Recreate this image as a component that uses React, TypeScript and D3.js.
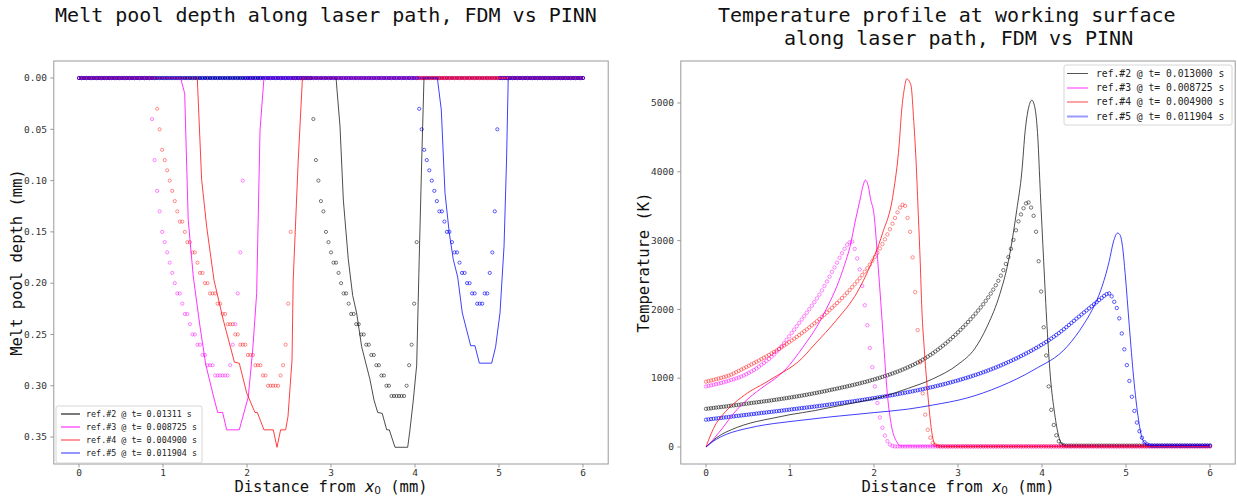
import React from "react";
import * as d3 from "d3";

// ---- data ----
const refNames = ["ref.#2", "ref.#3", "ref.#4", "ref.#5"];
const depthTimes = ["0.01311", "0.008725", "0.004900", "0.011904"];
const tempTimes = ["0.013000", "0.008725", "0.004900", "0.011904"];

// PINN samples sit on a regular grid along the path
const gridStep = 0.03;
const gridCount = 201;

// PINN melt pool depth (mm): first grid index inside the pool, then the depths; 0 outside
const pinnDepthStart = [93, 29, 31, 135];
const pinnDepth2 = [0.04, 0.08, 0.10, 0.12, 0.13, 0.15, 0.16, 0.17, 0.18, 0.18, 0.19, 0.20, 0.21, 0.21, 0.22, 0.23, 0.23, 0.24, 0.24, 0.25, 0.25, 0.26, 0.26, 0.27, 0.27, 0.28, 0.28, 0.29, 0.29, 0.30, 0.30, 0.31, 0.31, 0.31, 0.31, 0.31, 0.31, 0.30, 0.28, 0.26, 0.22, 0.16];
const pinnDepth3 = [0.04, 0.08, 0.11, 0.13, 0.15, 0.16, 0.17, 0.18, 0.19, 0.20, 0.21, 0.21, 0.22, 0.23, 0.23, 0.24, 0.25, 0.25, 0.26, 0.26, 0.27, 0.27, 0.28, 0.28, 0.28, 0.29, 0.29, 0.29, 0.29, 0.29, 0.29, 0.28, 0.26, 0.24, 0.21, 0.17, 0.10];
const pinnDepth4 = [0.03, 0.05, 0.07, 0.08, 0.09, 0.10, 0.11, 0.12, 0.13, 0.14, 0.14, 0.15, 0.16, 0.16, 0.17, 0.17, 0.18, 0.19, 0.19, 0.20, 0.20, 0.21, 0.21, 0.21, 0.22, 0.22, 0.23, 0.23, 0.24, 0.24, 0.24, 0.25, 0.25, 0.26, 0.26, 0.26, 0.27, 0.27, 0.27, 0.28, 0.28, 0.28, 0.29, 0.29, 0.30, 0.30, 0.30, 0.30, 0.30, 0.29, 0.28, 0.26, 0.22, 0.15];
const pinnDepth5 = [0.03, 0.05, 0.07, 0.08, 0.09, 0.10, 0.11, 0.12, 0.13, 0.13, 0.14, 0.15, 0.15, 0.16, 0.17, 0.17, 0.18, 0.19, 0.19, 0.20, 0.20, 0.21, 0.21, 0.22, 0.22, 0.22, 0.21, 0.21, 0.19, 0.17, 0.13, 0.05];

// FDM melt pool depth (x mm, depth mm)
const fdmDepth2 = [[0, 0], [3.06, 0], [3.107, 0.047], [3.147, 0.119], [3.206, 0.177], [3.258, 0.212], [3.305, 0.229], [3.365, 0.262], [3.464, 0.294], [3.512, 0.314], [3.556, 0.326], [3.61, 0.327], [3.663, 0.343], [3.694, 0.343], [3.762, 0.36], [3.913, 0.36], [3.94, 0.343], [3.98, 0.314], [4.02, 0.28], [4.05, 0.177], [4.08, 0.08], [4.107, 0], [6, 0]];
const fdmDepth3 = [[0, 0], [1.21, 0], [1.258, 0.015], [1.30, 0.138], [1.361, 0.194], [1.44, 0.242], [1.508, 0.279], [1.60, 0.31], [1.651, 0.326], [1.71, 0.326], [1.758, 0.343], [1.908, 0.343], [2.015, 0.311], [2.068, 0.265], [2.115, 0.21], [2.155, 0.051], [2.202, 0], [6, 0]];
const fdmDepth4 = [[0, 0], [1.408, 0], [1.46, 0.099], [1.52, 0.145], [1.607, 0.197], [1.718, 0.236], [1.85, 0.277], [1.908, 0.278], [1.996, 0.307], [2.095, 0.326], [2.123, 0.326], [2.202, 0.343], [2.313, 0.343], [2.357, 0.36], [2.40, 0.343], [2.46, 0.343], [2.488, 0.33], [2.536, 0.275], [2.55, 0.197], [2.61, 0.08], [2.66, 0], [6, 0]];
const fdmDepth5 = [[0, 0], [4.266, 0], [4.313, 0.031], [4.357, 0.112], [4.408, 0.151], [4.456, 0.177], [4.508, 0.194], [4.563, 0.229], [4.663, 0.261], [4.714, 0.261], [4.766, 0.278], [4.913, 0.278], [4.96, 0.262], [5.012, 0.229], [5.06, 0.164], [5.09, 0.08], [5.11, 0], [6, 0]];

// PINN surface temperature (K), one value per grid point
const pinnTemp2 = [
  555, 559, 563, 568, 572, 577, 581, 586, 590, 595,
  600, 605, 609, 614, 619, 624, 629, 634, 639, 644,
  648, 653, 658, 663, 668, 673, 678, 684, 689, 694,
  700, 705, 711, 717, 723, 729, 735, 741, 747, 754,
  760, 767, 774, 781, 788, 795, 803, 810, 818, 826,
  834, 841, 849, 857, 865, 873, 881, 890, 898, 907,
  916, 925, 934, 944, 954, 964, 974, 985, 996, 1007,
  1019, 1031, 1043, 1056, 1069, 1082, 1096, 1110, 1125, 1140,
  1156, 1173, 1190, 1208, 1227, 1247, 1268, 1290, 1313, 1337,
  1362, 1388, 1415, 1443, 1472, 1502, 1533, 1565, 1598, 1632,
  1667, 1703, 1740, 1778, 1817, 1857, 1898, 1940, 1983, 2028,
  2075, 2124, 2175, 2230, 2288, 2350, 2416, 2490, 2570, 2660,
  2760, 2880, 3010, 3150, 3280, 3380, 3470, 3540, 3555, 3480,
  3360, 3128, 2700, 2260, 1740, 1330, 880, 540, 320, 170,
  85, 40, 25, 20, 20, 20, 20, 20, 20, 20,
  20, 20, 20, 20, 20, 20, 20, 20, 20, 20,
  20, 20, 20, 20, 20, 20, 20, 20, 20, 20,
  20, 20, 20, 20, 20, 20, 20, 20, 20, 20,
  20, 20, 20, 20, 20, 20, 20, 20, 20, 20,
  20, 20, 20, 20, 20, 20, 20, 20, 20, 20,
  20,
];
const pinnTemp3 = [
  880, 888, 896, 905, 913, 922, 931, 941, 951, 962,
  973, 985, 997, 1010, 1024, 1040, 1058, 1077, 1097, 1119,
  1143, 1168, 1195, 1222, 1250, 1280, 1312, 1346, 1384, 1422,
  1465, 1510, 1558, 1608, 1658, 1706, 1755, 1804, 1853, 1902,
  1952, 2003, 2054, 2105, 2160, 2215, 2275, 2340, 2405, 2475,
  2545, 2610, 2680, 2750, 2815, 2880, 2940, 2975, 2985, 2880,
  2740, 2580, 2340, 2060, 1770, 1440, 1160, 880, 640, 430,
  280, 165, 85, 35, 14, 8, 8, 8, 8, 8,
  8, 8, 8, 8, 8, 8, 8, 8, 8, 8,
  8, 8, 8, 8, 8, 8, 8, 8, 8, 8,
  8, 8, 8, 8, 8, 8, 8, 8, 8, 8,
  8, 8, 8, 8, 8, 8, 8, 8, 8, 8,
  8, 8, 8, 8, 8, 8, 8, 8, 8, 8,
  8, 8, 8, 8, 8, 8, 8, 8, 8, 8,
  8, 8, 8, 8, 8, 8, 8, 8, 8, 8,
  8, 8, 8, 8, 8, 8, 8, 8, 8, 8,
  8, 8, 8, 8, 8, 8, 8, 8, 8, 8,
  8, 8, 8, 8, 8, 8, 8, 8, 8, 8,
  8, 8, 8, 8, 8, 8, 8, 8, 8, 8,
  8, 8, 8, 8, 8, 8, 8, 8, 8, 8,
  8,
];
const pinnTemp4 = [
  949, 958, 967, 976, 985, 995, 1005, 1015, 1026, 1038,
  1052, 1070, 1088, 1106, 1124, 1143, 1162, 1181, 1200, 1219,
  1238, 1258, 1278, 1298, 1318, 1338, 1360, 1382, 1404, 1427,
  1450, 1474, 1498, 1523, 1548, 1574, 1600, 1627, 1654, 1682,
  1710, 1739, 1768, 1798, 1828, 1859, 1890, 1922, 1955, 1988,
  2022, 2057, 2092, 2128, 2165, 2203, 2242, 2282, 2323, 2365,
  2408, 2453, 2500, 2548, 2598, 2650, 2705, 2762, 2822, 2885,
  2950, 3018, 3090, 3165, 3245, 3330, 3410, 3480, 3520, 3505,
  3330, 3128, 2756, 2250, 1700, 1230, 780, 470, 250, 135,
  60, 28, 14, 10, 10, 10, 10, 10, 10, 10,
  10, 10, 10, 10, 10, 10, 10, 10, 10, 10,
  10, 10, 10, 10, 10, 10, 10, 10, 10, 10,
  10, 10, 10, 10, 10, 10, 10, 10, 10, 10,
  10, 10, 10, 10, 10, 10, 10, 10, 10, 10,
  10, 10, 10, 10, 10, 10, 10, 10, 10, 10,
  10, 10, 10, 10, 10, 10, 10, 10, 10, 10,
  10, 10, 10, 10, 10, 10, 10, 10, 10, 10,
  10, 10, 10, 10, 10, 10, 10, 10, 10, 10,
  10, 10, 10, 10, 10, 10, 10, 10, 10, 10,
  10, 10, 10, 10, 10, 10, 10, 10, 10, 10,
  10,
];
const pinnTemp5 = [
  397, 401, 406, 410, 414, 419, 423, 428, 432, 436,
  441, 445, 450, 454, 458, 463, 467, 472, 476, 480,
  485, 489, 494, 498, 502, 507, 511, 516, 520, 524,
  529, 533, 538, 542, 547, 551, 556, 560, 565, 569,
  574, 578, 583, 588, 592, 597, 602, 607, 612, 617,
  622, 627, 632, 637, 642, 647, 652, 657, 662, 668,
  673, 678, 684, 689, 695, 700, 706, 712, 718, 724,
  730, 736, 742, 748, 754, 761, 768, 775, 782, 789,
  796, 803, 810, 818, 825, 833, 841, 849, 857, 865,
  873, 882, 891, 900, 909, 918, 928, 938, 948, 958,
  968, 979, 990, 1001, 1012, 1024, 1036, 1048, 1060, 1073,
  1086, 1099, 1113, 1127, 1141, 1156, 1171, 1186, 1202, 1218,
  1234, 1251, 1268, 1285, 1303, 1321, 1340, 1359, 1378, 1398,
  1418, 1439, 1460, 1482, 1504, 1527, 1551, 1576, 1602, 1628,
  1655, 1683, 1712, 1742, 1772, 1803, 1834, 1865, 1895, 1925,
  1955, 1985, 2015, 2045, 2075, 2105, 2136, 2166, 2196, 2222,
  2232, 2190, 2110, 2020, 1870, 1650, 1420, 1190, 960, 730,
  525, 355, 230, 135, 70, 38, 24, 20, 20, 20,
  20, 20, 20, 20, 20, 20, 20, 20, 20, 20,
  20, 20, 20, 20, 20, 20, 20, 20, 20, 20,
  20,
];

// FDM surface temperature (x mm, T K)
const fdmTemp2 = [[0, 0], [0.06, 70], [0.12, 130], [0.18, 180], [0.3, 250], [0.45, 320], [0.6, 370], [0.8, 420], [1.0, 470], [1.3, 530], [1.5, 580], [1.8, 650], [2.1, 730], [2.4, 850], [2.7, 990], [3.0, 1200], [3.2, 1430], [3.35, 1760], [3.5, 2230], [3.6, 2700], [3.7, 3450], [3.76, 4000], [3.8, 4600], [3.84, 4930], [3.88, 5040], [3.92, 4900], [3.95, 4500], [3.98, 3700], [4.02, 2700], [4.06, 1750], [4.1, 1020], [4.15, 490], [4.2, 150], [4.25, 30], [4.3, 15], [6, 15]];
const fdmTemp3 = [[0, 0], [0.06, 70], [0.12, 160], [0.2, 280], [0.33, 490], [0.5, 700], [0.7, 890], [0.85, 1020], [1.0, 1200], [1.1, 1360], [1.2, 1530], [1.32, 1750], [1.45, 2050], [1.556, 2330], [1.65, 2650], [1.714, 2910], [1.78, 3300], [1.833, 3590], [1.87, 3800], [1.897, 3880], [1.93, 3800], [1.96, 3600], [2.0, 3380], [2.05, 2620], [2.11, 1600], [2.158, 780], [2.21, 295], [2.27, 77], [2.32, 15], [6, 10]];
const fdmTemp4 = [[0, 0], [0.06, 190], [0.12, 340], [0.2, 470], [0.33, 630], [0.5, 790], [0.7, 930], [0.85, 1040], [1.0, 1150], [1.1, 1240], [1.3, 1500], [1.55, 1840], [1.8, 2250], [1.95, 2620], [2.1, 3100], [2.23, 3690], [2.3, 4400], [2.33, 4900], [2.36, 5200], [2.39, 5350], [2.44, 5260], [2.47, 4800], [2.5, 4170], [2.53, 3300], [2.55, 2700], [2.57, 2000], [2.6, 1400], [2.65, 640], [2.69, 200], [2.73, 30], [2.8, 10], [6, 10]];
const fdmTemp5 = [[0, 0], [0.06, 60], [0.12, 110], [0.18, 150], [0.3, 210], [0.45, 260], [0.6, 300], [0.8, 340], [1.0, 370], [1.5, 440], [2.0, 500], [2.4, 550], [2.7, 610], [3.1, 710], [3.5, 880], [3.9, 1120], [4.3, 1460], [4.5, 1790], [4.6, 2000], [4.7, 2280], [4.8, 2700], [4.85, 2980], [4.9, 3110], [4.93, 3080], [4.96, 2900], [4.99, 2520], [5.04, 1750], [5.09, 1020], [5.15, 390], [5.2, 100], [5.26, 30], [5.3, 20], [6, 20]];

const xTicks = [0, 1, 2, 3, 4, 5, 6];
const depthTicks = [0, 0.05, 0.1, 0.15, 0.2, 0.25, 0.3, 0.35];
const tempTicks = [0, 1000, 2000, 3000, 4000, 5000];

// ---- styles ----
const seriesColor = ["#000000", "#ff00ff", "#ff0000", "#0000ff"];
const lineOpacity = [0.7, 0.8, 0.75, 0.75];
const dotOpacity = [0.65, 0.6, 0.55, 0.8];
const legendL = [
  { c: "#222222", w: 1.2 },
  { c: "#ff33ff", w: 1.2 },
  { c: "#ff7777", w: 1.5 },
  { c: "#5050ff", w: 1.2 },
];
const legendR = [
  { c: "#555555", w: 1 },
  { c: "#ff99ff", w: 2 },
  { c: "#ff4444", w: 1 },
  { c: "#9999ff", w: 2 },
];
const mono = "DejaVu Sans Mono";
const spine = "#999999";
const tickColor = "#333333";

const top = 61, bottom = 464;
const xL = d3.scaleLinear().domain([-0.3, 6.3]).range([53.8, 608.2]);
const yL = d3.scaleLinear().domain([-0.0166, 0.3763]).range([top, bottom]);
const xR = d3.scaleLinear().domain([-0.3, 6.3]).range([680.8, 1235.2]);
const yR = d3.scaleLinear().domain([-247, 5610]).range([bottom, top]);

const gridX = (i: number) => i * gridStep;
const gridIdx = d3.range(gridCount);

function depthAt(pool: number[], start: number, i: number) {
  const k = i - start;
  return k >= 0 && k < pool.length ? pool[k] : 0;
}

const pinnDepths = [pinnDepth2, pinnDepth3, pinnDepth4, pinnDepth5];
const fdmDepths = [fdmDepth2, fdmDepth3, fdmDepth4, fdmDepth5];
const pinnTemps = [pinnTemp2, pinnTemp3, pinnTemp4, pinnTemp5];
const fdmTemps = [fdmTemp2, fdmTemp3, fdmTemp4, fdmTemp5];

function Frame({ x0, x1 }: { x0: number; x1: number }) {
  return <rect x={x0} y={top} width={x1 - x0} height={bottom - top} fill="none" stroke={spine} strokeWidth={1} />;
}

function XAxis({ sx }: { sx: d3.ScaleLinear<number, number> }) {
  const cx = (sx.range()[0] + sx.range()[1]) / 2;
  return (
    <g>
      {xTicks.map((t) => (
        <g key={t}>
          <line x1={sx(t)} x2={sx(t)} y1={bottom} y2={bottom + 3.5} stroke={spine} />
          <text x={sx(t)} y={bottom + 12} textAnchor="middle" fontFamily={mono} fontSize={9.5} fill={tickColor}>{t}</text>
        </g>
      ))}
      <text x={cx} y={491.5} textAnchor="middle" fontFamily={mono} fontSize={15.5} fill="#111">
        {"Distance from "}
        <tspan fontFamily="DejaVu Sans" fontStyle="italic">x</tspan>
        <tspan fontFamily="DejaVu Sans" fontSize={10.5} dy={2.5}>0</tspan>
        <tspan dy={-2.5}>{" (mm)"}</tspan>
      </text>
    </g>
  );
}

function Legend({ x, y, w, h, rowY, lineX, textX, fs, labels, styles }: any) {
  return (
    <g>
      <rect x={x} y={y} width={w} height={h} rx={2} fill="#ffffff" fillOpacity={0.85} stroke="#cccccc" strokeWidth={0.8} />
      {labels.map((lab: string, i: number) => (
        <g key={i}>
          <line x1={lineX[0]} x2={lineX[1]} y1={rowY[i]} y2={rowY[i]} stroke={styles[i].c} strokeWidth={styles[i].w} />
          <text x={textX} y={rowY[i] + fs * 0.35} fontFamily={mono} fontSize={fs} fill="#222">{lab}</text>
        </g>
      ))}
    </g>
  );
}

export default function App() {
  const lineL = d3.line<number[]>().x((d) => xL(d[0])).y((d) => yL(d[1]));
  const lineR = d3
    .line<number[]>()
    .x((d) => xR(d[0]))
    .y((d) => yR(d[1]))
    .curve(d3.curveMonotoneX);

  return (
    <svg width={1237} height={497} style={{ position: "absolute", left: 0, top: 0, background: "#fff" }}>
      {/* titles */}
      <text x={326} y={22} textAnchor="middle" fontFamily={mono} fontSize={20} fill="#111">
        Melt pool depth along laser path, FDM vs PINN
      </text>
      <text x={718} y={22} fontFamily={mono} fontSize={20} fill="#111">Temperature profile at working surface</text>
      <text x={784} y={45} fontFamily={mono} fontSize={20} fill="#111">along laser path, FDM vs PINN</text>

      {/* ---- left panel ---- */}
      <Frame x0={xL.range()[0]} x1={xL.range()[1]} />
      {depthTicks.map((t) => (
        <g key={t}>
          <line x1={xL.range()[0] - 3.5} x2={xL.range()[0]} y1={yL(t)} y2={yL(t)} stroke={spine} />
          <text x={47} y={yL(t) + 3.3} textAnchor="end" fontFamily={mono} fontSize={9.5} fill={tickColor}>{t.toFixed(2)}</text>
        </g>
      ))}
      <XAxis sx={xL} />
      <text transform={`translate(22,${(top + bottom) / 2}) rotate(-90)`} textAnchor="middle" fontFamily={mono} fontSize={15.5} fill="#111">
        Melt pool depth (mm)
      </text>
      {pinnDepths.map((pool, s) => (
        <g key={s} fill="none" stroke={seriesColor[s]} strokeOpacity={dotOpacity[s]} strokeWidth={0.8}>
          {gridIdx.map((i) => (
            <circle key={i} cx={xL(gridX(i))} cy={yL(depthAt(pool, pinnDepthStart[s], i))} r={1.6} />
          ))}
        </g>
      ))}
      {fdmDepths.map((d, s) => (
        <path key={s} d={lineL(d) || ""} fill="none" stroke={seriesColor[s]} strokeOpacity={lineOpacity[s]} strokeWidth={1} />
      ))}
      <Legend
        x={56} y={406} w={146} h={57}
        rowY={[414, 427, 440, 453]} lineX={[61, 80]} textX={86} fs={8.4}
        labels={refNames.map((r, i) => `${r} @ t= ${depthTimes[i]} s`)}
        styles={legendL}
      />

      {/* ---- right panel ---- */}
      <Frame x0={xR.range()[0]} x1={xR.range()[1]} />
      {tempTicks.map((t) => (
        <g key={t}>
          <line x1={xR.range()[0] - 3.5} x2={xR.range()[0]} y1={yR(t)} y2={yR(t)} stroke={spine} />
          <text x={674} y={yR(t) + 3.3} textAnchor="end" fontFamily={mono} fontSize={9.5} fill={tickColor}>{t}</text>
        </g>
      ))}
      <XAxis sx={xR} />
      <text transform={`translate(649,${(top + bottom) / 2}) rotate(-90)`} textAnchor="middle" fontFamily={mono} fontSize={15.5} fill="#111">
        Temperature (K)
      </text>
      {pinnTemps.map((vals, s) => (
        <g key={s} fill="none" stroke={seriesColor[s]} strokeOpacity={dotOpacity[s]} strokeWidth={0.8}>
          {vals.map((v, i) => (
            <circle key={i} cx={xR(gridX(i))} cy={yR(v)} r={1.7} />
          ))}
        </g>
      ))}
      {fdmTemps.map((d, s) => (
        <path key={s} d={lineR(d) || ""} fill="none" stroke={seriesColor[s]} strokeOpacity={lineOpacity[s]} strokeWidth={1} />
      ))}
      <Legend
        x={1064} y={65} w={168} h={60}
        rowY={[73.5, 88, 102, 116.5]} lineX={[1067, 1088]} textX={1096} fs={9.7}
        labels={refNames.map((r, i) => `${r} @ t= ${tempTimes[i]} s`)}
        styles={legendR}
      />
    </svg>
  );
}
